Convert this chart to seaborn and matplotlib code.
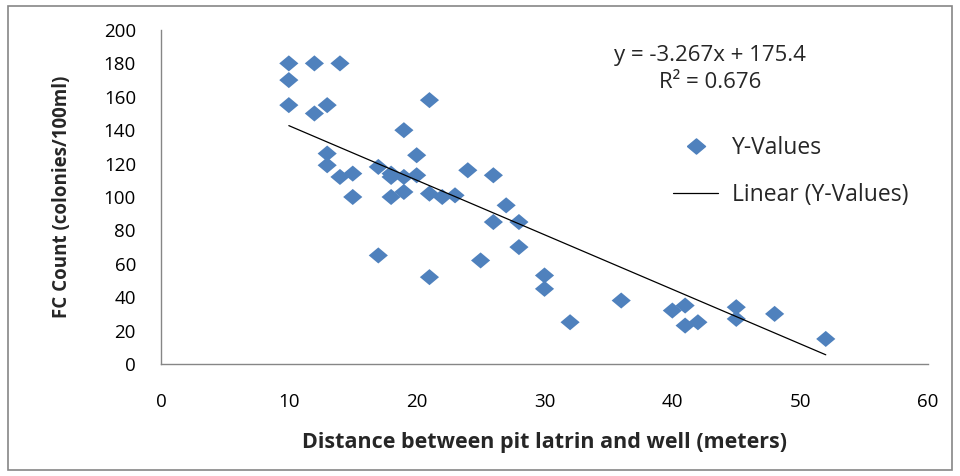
import numpy as np
import pandas as pd
import matplotlib
matplotlib.use('Agg')
import matplotlib.pyplot as plt
from matplotlib.lines import Line2D
from matplotlib.patches import Rectangle
import seaborn as sns

# distance between pit latrine and well (m) and FC count (colonies/100ml)
distance = [10, 12, 14, 10, 10, 13, 12, 21, 19, 20, 13, 13, 14, 15, 17, 18,
            18, 19, 20, 24, 26, 15, 18, 19, 21, 22, 23, 27, 26, 28, 28, 17,
            25, 21, 30, 30, 32, 36, 40, 41, 41, 42, 45, 45, 48, 52]
fc_count = [180, 180, 180, 170, 155, 155, 150, 158, 140, 125, 126, 119, 112, 114, 118, 114,
            112, 112, 113, 116, 113, 100, 100, 103, 102, 100, 101, 95, 85, 85, 70, 65,
            62, 52, 53, 45, 25, 38, 32, 35, 23, 25, 34, 27, 30, 15]

# trend line as reported on the chart
slope = -3.267
intercept = 175.4
r_squared = 0.676

df = pd.DataFrame({'distance': distance, 'fc': fc_count})
x_fit = np.array([min(distance), max(distance)])
df_fit = pd.DataFrame({'distance': x_fit, 'fc': slope * x_fit + intercept})

sns.set_style('white')
plt.rcParams['font.family'] = ['Open Sans', 'DejaVu Sans']

blue = '#4F81BD'
grey = '#868686'
diamond = [(-1, 0), (0, 0.84), (1, 0), (0, -0.84), (-1, 0)]

fig = plt.figure(figsize=(9.6, 4.76), dpi=100)
ax = fig.add_axes([0.1677, 0.2353, 0.799, 0.7017])

sns.scatterplot(data=df, x='distance', y='fc', marker=diamond, s=190,
                color=blue, edgecolor='none', ax=ax, zorder=2)
sns.lineplot(data=df_fit, x='distance', y='fc', color='black', linewidth=0.9,
             ax=ax, zorder=3)

ax.set_xlim(0, 60)
ax.set_ylim(0, 200)
ax.set_xticks(range(0, 61, 10))
ax.set_yticks(range(0, 201, 20))
ax.tick_params(axis='both', labelsize=13.5, colors='black', length=7,
               width=1, color=grey, direction='out')
ax.tick_params(axis='y', pad=11)
ax.tick_params(axis='x', pad=14)
for s in ['top', 'right']:
    ax.spines[s].set_visible(False)
for s in ['left', 'bottom']:
    ax.spines[s].set_color(grey)
    ax.spines[s].set_linewidth(1)

ax.set_xlabel('Distance between pit latrin and well (meters)', fontsize=15.5,
              fontweight='bold', labelpad=15)
ax.set_ylabel('FC Count (colonies/100ml)', fontsize=13.5, fontweight='bold',
              labelpad=23)

ax.text(0.716, 0.925, f'y = {slope}x + {intercept}', transform=ax.transAxes,
        ha='center', va='center', fontsize=16)
ax.text(0.716, 0.844, f'R² = {r_squared}', transform=ax.transAxes,
        ha='center', va='center', fontsize=16)

handles = [Line2D([], [], marker=diamond, linestyle='none', color=blue,
                  markersize=13),
           Line2D([], [], color='black', linewidth=0.9)]
ax.legend(handles, ['Y-Values', 'Linear (Y-Values)'], frameon=False,
          fontsize=16.5, loc='center left', bbox_to_anchor=(0.656, 0.575),
          borderaxespad=0, handlelength=1.95, labelspacing=1.0,
          handletextpad=0.6)

fig.patches.append(Rectangle((8 / 960, 6 / 476), 944 / 960, 464 / 476,
                             transform=fig.transFigure, fill=False,
                             edgecolor=grey, linewidth=1.2))

fig.savefig('out.png', dpi=100)
